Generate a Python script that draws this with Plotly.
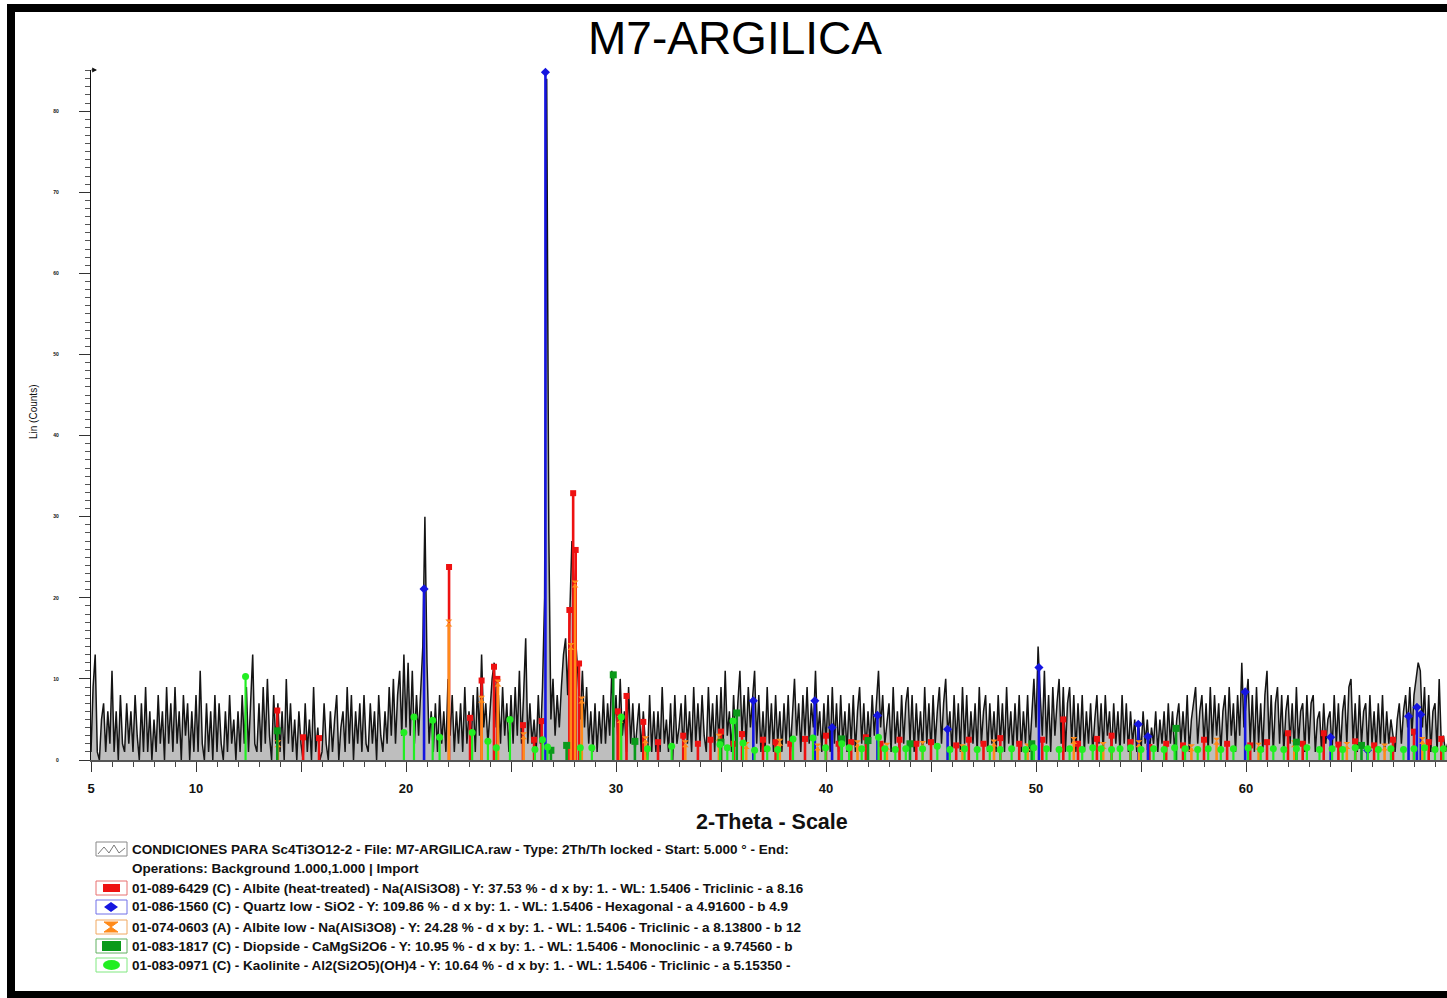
import plotly.graph_objects as go

# ---------------------------------------------------------------------------
# Measured pattern (Lin counts), 2-theta scan from 5.0 deg in 0.1 deg steps
# ---------------------------------------------------------------------------
scan_start = 5.0
scan_step = 0.1

counts_05_15 = [
    1, 9, 13, 1, 0, 5, 7, 1, 6, 2,
    11, 1, 6, 0, 8, 2, 1, 7, 2, 6,
    1, 8, 3, 0, 7, 1, 9, 1, 6, 0,
    5, 1, 8, 2, 6, 0, 9, 2, 7, 1,
    9, 2, 6, 0, 8, 3, 7, 0, 6, 1,
    8, 1, 11, 2, 0, 7, 1, 6, 0, 8,
    1, 7, 2, 0, 6, 1, 8, 2, 5, 0,
    6, 1, 8, 2, 9, 1, 7, 13, 2, 1,
    7, 1, 9, 2, 10, 3, 0, 8, 2, 7,
    1, 6, 0, 10, 2, 7, 1, 5, 0, 6,
]
counts_15_25 = [
    2, 0, 7, 1, 5, 0, 9, 1, 4, 0,
    1, 7, 2, 0, 6, 1, 5, 8, 0, 4,
    6, 1, 9, 2, 8, 0, 6, 2, 7, 1,
    8, 2, 1, 7, 2, 6, 0, 8, 3, 1,
    6, 2, 9, 3, 10, 2, 8, 11, 3, 13,
    4, 12, 3, 11, 2, 8, 3, 9, 14, 30,
    12, 2, 6, 1, 7, 1, 8, 2, 6, 1,
    10, 3, 8, 1, 6, 2, 7, 1, 9, 2,
    6, 2, 8, 1, 9, 3, 13, 4, 7, 2,
    6, 10, 12, 4, 8, 2, 9, 3, 7, 1,
]
counts_25_35 = [
    8, 2, 9, 3, 11, 2, 8, 15, 2, 7,
    2, 5, 1, 8, 2, 9, 20, 84, 28, 5,
    10, 3, 8, 4, 9, 13, 15, 8, 18, 27,
    22, 14, 10, 5, 11, 4, 9, 2, 6, 1,
    7, 1, 6, 2, 8, 2, 7, 3, 11, 4,
    8, 2, 10, 3, 6, 1, 9, 2, 7, 1,
    4, 7, 1, 6, 2, 0, 8, 1, 6, 1,
    6, 1, 9, 2, 5, 1, 7, 0, 8, 2,
    4, 7, 1, 8, 2, 6, 1, 9, 2, 7,
    2, 8, 3, 1, 9, 2, 7, 1, 8, 2,
]
counts_35_45 = [
    9, 2, 11, 3, 6, 1, 8, 2, 7, 11,
    3, 8, 2, 9, 4, 7, 11, 2, 8, 1,
    6, 1, 9, 2, 7, 1, 8, 2, 6, 1,
    7, 2, 8, 1, 6, 10, 3, 7, 1, 8,
    3, 9, 2, 7, 4, 11, 3, 6, 1, 7,
    2, 8, 1, 9, 2, 7, 1, 8, 2, 6,
    1, 7, 2, 8, 1, 6, 9, 2, 7, 1,
    6, 2, 8, 3, 7, 11, 4, 8, 2, 5,
    7, 1, 9, 2, 6, 1, 8, 2, 7, 9,
    2, 8, 1, 7, 2, 6, 1, 9, 2, 7,
]
counts_45_55 = [
    1, 8, 2, 6, 9, 2, 7, 10, 3, 6,
    1, 8, 2, 7, 1, 9, 2, 8, 1, 6,
    2, 7, 1, 9, 2, 6, 8, 1, 7, 2,
    6, 1, 8, 2, 7, 1, 9, 2, 6, 1,
    7, 2, 8, 1, 6, 2, 8, 1, 6, 10,
    4, 14, 8, 3, 11, 2, 8, 1, 9, 3,
    7, 10, 2, 9, 1, 7, 9, 2, 8, 1,
    7, 2, 8, 1, 6, 2, 7, 1, 5, 8,
    2, 7, 1, 8, 3, 6, 1, 7, 2, 6,
    1, 8, 2, 7, 1, 6, 2, 5, 1, 4,
]
counts_55_70 = [
    1, 6, 2, 5, 1, 4, 2, 6, 1, 5,
    2, 6, 1, 7, 2, 6, 1, 5, 7, 2,
    6, 2, 8, 1, 5, 7, 9, 2, 6, 8,
    2, 7, 1, 9, 2, 8, 3, 7, 1, 6,
    8, 2, 9, 3, 7, 1, 8, 3, 12, 4,
    7, 10, 2, 8, 1, 9, 2, 7, 1, 8,
    11, 2, 8, 1, 7, 9, 2, 8, 1, 6,
    8, 2, 7, 1, 9, 2, 6, 7, 1, 8,
    2, 7, 8, 1, 5, 6, 1, 7, 2, 5,
    6, 1, 8, 2, 7, 1, 6, 8, 2, 9,
    10, 2, 7, 1, 8, 2, 6, 7, 1, 8,
    2, 6, 1, 7, 2, 8, 1, 6, 2, 5,
    3, 1, 5, 7, 2, 6, 8, 4, 9, 3,
    8, 10, 12, 11, 4, 9, 2, 8, 1, 6,
    7, 1, 10, 2, 3, 1, 2, 1, 2, 1,
]

counts = counts_05_15 + counts_15_25 + counts_25_35 + counts_35_45 + counts_45_55 + counts_55_70
two_theta = [round(scan_start + i * scan_step, 2) for i in range(len(counts))]

# ---------------------------------------------------------------------------
# Reference patterns: (2-theta, height) of each stick
# ---------------------------------------------------------------------------
albite_heat_treated = [
    (13.87, 6.1), (15.1, 2.8), (15.86, 2.7), (22.05, 23.8), (23.05, 5.2),
    (23.6, 9.8), (24.19, 11.5), (24.35, 10.0), (25.57, 4.3), (26.1, 2.5),
    (26.46, 4.8), (27.78, 18.5), (27.96, 32.9), (28.08, 25.9), (28.24, 11.9),
    (30.08, 6.0), (30.5, 7.9), (31.3, 4.7), (32.0, 2.2), (33.2, 3.0),
    (33.9, 2.0), (34.5, 2.5), (35.0, 3.5), (35.6, 2.0), (36.0, 3.2),
    (37.0, 2.5), (37.6, 2.2), (38.3, 2.0), (39.0, 2.6), (40.0, 3.0),
    (40.6, 2.0), (41.2, 2.2), (41.9, 2.8), (42.6, 2.0), (43.5, 2.5),
    (44.3, 2.0), (45.0, 2.2), (46.2, 1.8), (46.8, 2.5), (47.5, 2.0),
    (48.3, 2.7), (49.2, 2.0), (50.3, 2.5), (51.3, 5.0), (52.0, 2.0),
    (52.9, 2.6), (53.6, 3.0), (54.5, 2.2), (55.4, 1.6), (56.2, 2.0),
    (57.0, 1.8), (58.0, 2.5), (59.1, 2.0), (60.2, 1.8), (61.0, 2.2),
    (62.0, 3.3), (62.7, 2.0), (63.7, 3.3), (64.4, 1.9), (65.2, 2.3),
    (66.1, 1.8), (67.0, 2.5), (68.0, 3.5), (68.7, 2.2), (69.3, 2.6),
]
quartz_low = [
    (20.86, 21.1), (26.64, 84.8), (36.54, 7.3), (39.47, 7.3), (40.29, 4.0),
    (42.45, 5.5), (45.79, 3.8), (50.14, 11.4), (54.87, 4.4), (55.33, 2.9),
    (59.96, 8.4), (64.03, 2.8), (65.79, 1.2), (67.74, 5.4), (68.14, 6.5),
    (68.32, 5.6),
]
albite_low = [
    (13.9, 2.0), (22.04, 16.9), (23.6, 7.5), (24.38, 9.5), (25.6, 3.0),
    (27.85, 14.0), (28.05, 21.7), (28.37, 7.4), (30.2, 5.0), (31.4, 2.5),
    (33.3, 2.0), (34.9, 2.8), (36.2, 1.8), (37.8, 2.2), (39.6, 1.6),
    (41.5, 2.0), (42.9, 1.7), (44.6, 1.9), (46.5, 1.5), (48.0, 2.1),
    (49.6, 1.6), (51.8, 2.4), (53.2, 1.8), (54.9, 2.0), (57.4, 1.5),
    (58.6, 2.3), (60.6, 1.7), (62.3, 2.0), (64.8, 1.8), (66.6, 1.6),
    (68.4, 2.4),
]
diopside = [
    (13.87, 3.6), (26.9, 1.2), (27.65, 1.8), (29.87, 10.5), (30.9, 2.3),
    (35.0, 2.2), (35.75, 5.8), (40.75, 2.6), (42.0, 2.4), (44.0, 2.0),
    (49.8, 2.0), (56.67, 3.9), (62.4, 2.2), (65.5, 1.8),
]
kaolinite = [
    (12.36, 10.3), (19.9, 3.4), (20.38, 5.3), (21.27, 4.9), (21.6, 2.8),
    (23.15, 3.4), (23.9, 2.3), (24.3, 1.5), (24.95, 5.0), (26.14, 1.3),
    (26.5, 2.5), (26.74, 1.6), (28.3, 1.5), (28.85, 1.5), (30.25, 5.3),
    (31.5, 1.4), (32.65, 1.7), (34.95, 1.9), (35.3, 1.5), (35.57, 4.8),
    (36.05, 2.1), (36.6, 1.2), (37.2, 1.4), (37.7, 1.3), (38.43, 2.6),
    (39.38, 2.7), (39.98, 1.5), (40.75, 2.0), (41.1, 1.5), (41.7, 1.4),
    (42.5, 2.8), (42.8, 1.4), (43.3, 1.3), (43.8, 1.4), (44.6, 1.4),
    (45.3, 1.7), (45.9, 1.3), (46.6, 1.4), (47.2, 1.3), (47.8, 1.4),
    (48.3, 1.3), (48.84, 1.4), (49.5, 1.3), (49.9, 1.5), (50.5, 1.4),
    (51.1, 1.3), (51.6, 1.4), (52.2, 1.3), (52.7, 1.5), (53.1, 1.4),
    (53.6, 1.3), (54.0, 1.4), (54.5, 1.5), (55.0, 1.3), (55.6, 1.4),
    (56.1, 1.3), (56.6, 1.5), (57.1, 1.4), (57.7, 1.3), (58.2, 1.4),
    (58.8, 1.3), (59.4, 1.4), (60.1, 1.5), (60.7, 1.3), (61.3, 1.4),
    (61.8, 1.3), (62.4, 1.4), (62.9, 1.5), (63.5, 1.3), (64.1, 1.4),
    (64.6, 1.3), (65.2, 1.5), (65.8, 1.4), (66.3, 1.3), (66.9, 1.4),
    (67.5, 1.3), (68.0, 1.4), (68.5, 1.5), (69.0, 1.3), (69.4, 1.4),
]

x_tick_values = [5, 10, 15, 20, 25, 30, 35, 40, 45, 50, 55, 60, 65]
x_tick_labels = ["5", "10", "", "20", "", "30", "", "40", "", "50", "", "60", ""]
y_tick_values = [0, 10, 20, 30, 40, 50, 60, 70, 80]
y_tick_labels = ["0", "10", "20", "30", "40", "50", "60", "70", "80"]

legend_rows = [
    "CONDICIONES PARA Sc4Ti3O12-2 - File: M7-ARGILICA.raw - Type: 2Th/Th locked - Start: 5.000 ° - End:",
    "Operations: Background 1.000,1.000 | Import",
    "01-089-6429 (C) - Albite (heat-treated) - Na(AlSi3O8) - Y: 37.53 % - d x by: 1. - WL: 1.5406 - Triclinic - a 8.16",
    "01-086-1560 (C) - Quartz low - SiO2 - Y: 109.86 % - d x by: 1. - WL: 1.5406 - Hexagonal - a 4.91600 - b 4.9",
    "01-074-0603 (A) - Albite low - Na(AlSi3O8) - Y: 24.28 % - d x by: 1. - WL: 1.5406 - Triclinic - a 8.13800 - b 12",
    "01-083-1817 (C) - Diopside - CaMgSi2O6 - Y: 10.95 % - d x by: 1. - WL: 1.5406 - Monoclinic - a 9.74560 - b",
    "01-083-0971 (C) - Kaolinite - Al2(Si2O5)(OH)4 - Y: 10.64 % - d x by: 1. - WL: 1.5406 - Triclinic - a 5.15350 -",
]

# ---------------------------------------------------------------------------
# Layout geometry (pixels) and helpers to place things in paper units
# ---------------------------------------------------------------------------
W, H = 1447, 998
ML, MR, MT, MB = 91, 0, 70, 238
PW, PH = W - ML - MR, H - MT - MB
DEG_PX = 21.0
CNT_PX = 8.11


def px(x):
    return (x - ML) / PW


def py(y):
    return (H - MB - y) / PH


FONT = "Liberation Sans, Arial, Helvetica, sans-serif"

fig = go.Figure()

# measured pattern, lightly shaded underneath
fig.add_trace(go.Scatter(
    x=two_theta, y=counts, mode="lines", fill="tozeroy",
    fillcolor="rgba(70,70,70,0.35)",
    line=dict(color="#141414", width=1.5),
    showlegend=False, hoverinfo="skip",
))


def add_phase(peaks, color, symbol, size, line_w=2.6):
    xs, ys = [], []
    for pos, h in peaks:
        xs += [pos, pos, None]
        ys += [0, h, None]
    fig.add_trace(go.Scatter(
        x=xs, y=ys, mode="lines", line=dict(color=color, width=line_w),
        showlegend=False, hoverinfo="skip", cliponaxis=False,
    ))
    fig.add_trace(go.Scatter(
        x=[p for p, _ in peaks], y=[h for _, h in peaks], mode="markers",
        marker=dict(symbol=symbol, size=size, color=color, line=dict(width=0)),
        showlegend=False, hoverinfo="skip", cliponaxis=False,
    ))


RED, BLUE, ORANGE, DGREEN, LGREEN = "#ee1111", "#1515e0", "#ff8a1a", "#0a9a1a", "#22ee22"

add_phase(albite_heat_treated, RED, "square", 6)
add_phase(quartz_low, BLUE, "diamond", 7)
add_phase(albite_low, ORANGE, "hourglass", 7)
add_phase(diopside, DGREEN, "square", 7)
add_phase(kaolinite, LGREEN, "circle", 7, line_w=2.2)

x_max = scan_start + PW / DEG_PX
y_max = PH / CNT_PX

fig.update_xaxes(
    range=[scan_start, x_max], showgrid=False, zeroline=False,
    showline=True, linecolor="#555555", linewidth=2,
    tickmode="array", tickvals=x_tick_values, ticktext=x_tick_labels,
    ticks="outside", ticklen=10, tickwidth=1.2, tickcolor="#333333",
    tickfont=dict(family=FONT, size=13, color="#111111", weight="bold"),
    ticklabelstandoff=5,
    minor=dict(tickmode="linear", tick0=5, dtick=1, ticks="outside",
               ticklen=5, tickwidth=1, tickcolor="#444444"),
)
fig.update_yaxes(
    range=[0, y_max], showgrid=False, zeroline=False,
    showline=True, linecolor="#111111", linewidth=1.3,
    tickmode="array", tickvals=y_tick_values, ticktext=y_tick_labels,
    ticks="outside", ticklen=11, tickwidth=1, tickcolor="#333333",
    tickfont=dict(family=FONT, size=5, color="#111111", weight="bold"),
    ticklabelstandoff=19,
    minor=dict(tickmode="linear", tick0=0, dtick=1, ticks="outside",
               ticklen=5, tickwidth=0.8, tickcolor="#555555"),
)

annotations = [
    dict(text="M7-ARGILICA", x=px(735), y=py(38), xref="paper", yref="paper",
         showarrow=False, xanchor="center", yanchor="middle",
         font=dict(family=FONT, size=46, color="#000000")),
    dict(text="2-Theta - Scale", x=px(772), y=py(822), xref="paper", yref="paper",
         showarrow=False, xanchor="center", yanchor="middle",
         font=dict(family=FONT, size=21.5, color="#111111", weight="bold")),
    dict(text="Lin (Counts)", x=px(33), y=py(412), xref="paper", yref="paper",
         showarrow=False, xanchor="center", yanchor="middle", textangle=-90,
         font=dict(family=FONT, size=10, color="#111111")),
    # arrow on top of the count axis
    dict(text="", x=px(97), y=py(70), xref="paper", yref="paper",
         showarrow=True, ax=-7, ay=0, arrowhead=2, arrowsize=0.8,
         arrowwidth=1.2, arrowcolor="#111111"),
]

row_y = [849, 869, 888, 907, 927, 946, 965]
for txt, ry in zip(legend_rows, row_y):
    annotations.append(dict(
        text=txt, x=px(130), y=py(ry), xref="paper", yref="paper",
        showarrow=False, xanchor="left", yanchor="middle",
        font=dict(family=FONT, size=13.5, color="#111111", weight="bold"),
    ))

shapes = []


def rect(x0, y0, x1, y1, **kw):
    shapes.append(dict(type="rect", xref="paper", yref="paper",
                       x0=px(x0), x1=px(x1), y0=py(y1), y1=py(y0), **kw))


def path(points, **kw):
    d = "M " + " L ".join(f"{px(a):.5f},{py(b):.5f}" for a, b in points) + " Z"
    shapes.append(dict(type="path", xref="paper", yref="paper", path=d, **kw))


# page frame
rect(7, 4, 15, 998, fillcolor="#000000", line=dict(width=0), layer="above")
rect(7, 4, 1447, 12, fillcolor="#000000", line=dict(width=0), layer="above")
rect(7, 991, 1447, 998, fillcolor="#000000", line=dict(width=0), layer="above")

# legend icons
rect(96, 842, 127, 856, fillcolor="white", line=dict(color="#888888", width=1))
shapes.append(dict(
    type="path", xref="paper", yref="paper",
    path="M " + " L ".join(f"{px(a):.5f},{py(b):.5f}" for a, b in
                          [(98, 854), (104, 847), (109, 853), (114, 845), (119, 853), (125, 848)]),
    line=dict(color="#777777", width=1),
))

icon_colors = ["#e87070", "#7070e8", "#f0a860", "#60b060", "#80e880"]
for ry, col in zip(row_y[2:], icon_colors):
    rect(96, ry - 7, 127, ry + 7, fillcolor="white", line=dict(color=col, width=1))

r = row_y[2]
rect(103, r - 4, 120, r + 4, fillcolor=RED, line=dict(width=0))
r = row_y[3]
path([(104, r), (111, r - 5), (118, r), (111, r + 5)], fillcolor=BLUE, line=dict(width=0))
r = row_y[4]
path([(104, r - 5), (118, r - 5), (104, r + 5), (118, r + 5)], fillcolor=ORANGE,
     line=dict(color=ORANGE, width=1))
r = row_y[5]
rect(102, r - 5, 121, r + 5, fillcolor=DGREEN, line=dict(width=0))
r = row_y[6]
shapes.append(dict(type="circle", xref="paper", yref="paper",
                   x0=px(103), x1=px(120), y0=py(r + 5), y1=py(r - 5),
                   fillcolor=LGREEN, line=dict(width=0)))

fig.update_layout(
    width=W, height=H,
    margin=dict(l=ML, r=MR, t=MT, b=MB, autoexpand=False),
    paper_bgcolor="white", plot_bgcolor="white",
    annotations=annotations, shapes=shapes,
    showlegend=False,
)

fig.write_html("out.html")
